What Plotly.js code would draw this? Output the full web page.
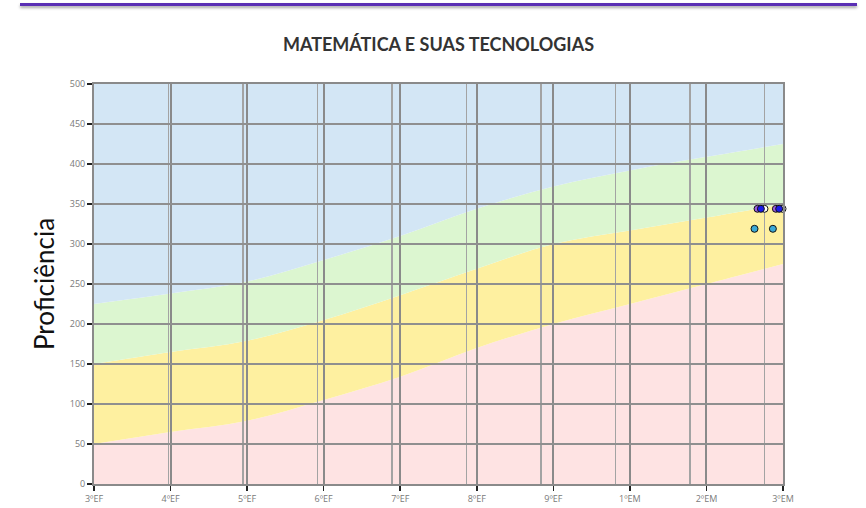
<!DOCTYPE html>
<html><head><meta charset="utf-8">
<script src="https://cdn.plot.ly/plotly-3.0.1.min.js"></script>
<style>
html,body{margin:0;padding:0;background:#fff;}
#topbar{position:absolute;left:20px;top:3px;width:837px;height:3px;background:#5a2fb4;box-shadow:0 2px 3px rgba(0,0,0,0.35);z-index:5;}
#chart{width:866px;height:508px;}
</style></head><body>
<div id="topbar"></div>
<div id="chart"></div>
<script>
// Grades (x categories)
const grades = ['3ºEF','4ºEF','5ºEF','6ºEF','7ºEF','8ºEF','9ºEF','1ºEM','2ºEM','3ºEM'];
// Upper limit of each proficiency band per grade
const abaixoTop   = [50, 65, 79, 105, 134, 170, 200, 225, 250, 275];
const basicoTop   = [150, 165, 179, 205, 236, 269, 300, 317, 333, 350];
const adequadoTop = [225, 238, 253, 280, 310, 344, 372, 392, 409, 425];
const avancadoTop = [500, 500, 500, 500, 500, 500, 500, 500, 500, 500];
const bandColors = ['#fee3e3', '#fef0a0', '#dcf6d0', '#d3e6f5'];

// Scatter points (position along the grade scale)
const purpleX = [8.667, 8.907]; const purpleY = [344, 344];
const blueX   = [8.711, 8.95];  const blueY   = [344, 344];
const whiteX  = [8.758, 8.994]; const whiteY  = [344, 344];
const cyanX   = [8.628, 8.868]; const cyanY   = [319, 319];

const bands = [abaixoTop, basicoTop, adequadoTop, avancadoTop];
const traces = bands.map((b, i) => ({
  x: grades, y: b, xaxis: 'x', yaxis: 'y',
  type: 'scatter', mode: 'lines',
  line: {width: 0, shape: 'spline', smoothing: 1, color: bandColors[i]},
  fill: i === 0 ? 'tozeroy' : 'tonexty', fillcolor: bandColors[i],
  hoverinfo: 'skip', showlegend: false
}));

function pts(x, y, c) {
  return {x: x, y: y, xaxis: 'x2', yaxis: 'y2', type: 'scatter', mode: 'markers',
    cliponaxis: false, showlegend: false,
    marker: {size: 7, color: c, line: {color: '#111', width: 1}}};
}
traces.push(pts(cyanX, cyanY, '#3ba9d6'));
traces.push(pts(purpleX, purpleY, '#9a5ddc'));
traces.push(pts(whiteX, whiteY, '#ffffff'));
traces.push(pts(blueX, blueY, '#1a1ae6'));

const tickFont = {family: 'Open Sans, sans-serif', size: 9, color: '#7a7a7a'};
const layout = {
  width: 866, height: 508,
  margin: {l: 94, r: 83, t: 84, b: 24},
  paper_bgcolor: '#fff', plot_bgcolor: 'rgba(0,0,0,0)',
  showlegend: false,
  title: {text: 'MATEMÁTICA E SUAS TECNOLOGIAS', xref: 'paper', x: 0.5,
    yref: 'container', y: 0.912, yanchor: 'middle',
    font: {family: 'Lato, sans-serif', size: 18, color: '#333', weight: 'bold'}},
  xaxis: {type: 'category', range: [0, 9], showgrid: false, showticklabels: false,
    ticks: '', zeroline: false, showline: false, fixedrange: true},
  yaxis: {range: [0, 500], showgrid: false, showticklabels: false, ticks: '',
    zeroline: false, showline: false, fixedrange: true},
  xaxis2: {anchor: 'y2', range: [0, 9], tickmode: 'array',
    tickvals: grades.map((g, i) => i), ticktext: grades,
    showgrid: true, gridcolor: '#8a8a8a', gridwidth: 2,
    minor: {tickmode: 'linear', tick0: 0, dtick: 0.973, showgrid: true,
      gridcolor: '#a3a3a3', gridwidth: 1.5, ticks: ''},
    ticks: 'outside', ticklen: 5, tickwidth: 1.5, tickcolor: '#222',
    showline: true, mirror: true, linecolor: '#8a8a8a', linewidth: 2,
    zeroline: false, tickfont: tickFont, fixedrange: true},
  yaxis2: {anchor: 'x2', range: [0, 500], dtick: 50, tick0: 0,
    showgrid: true, gridcolor: '#8f8f8f', gridwidth: 2,
    ticks: 'outside', ticklen: 5, tickwidth: 1.5, tickcolor: '#222',
    showline: true, mirror: true, linecolor: '#8a8a8a', linewidth: 2,
    zeroline: false, tickfont: tickFont, fixedrange: true,
    title: {text: 'Proficiência', standoff: 8,
      font: {family: 'Lato, sans-serif', size: 26, color: '#111'}}}
};
Plotly.newPlot('chart', traces, layout, {displayModeBar: false, staticPlot: true});
</script>
</body></html>
